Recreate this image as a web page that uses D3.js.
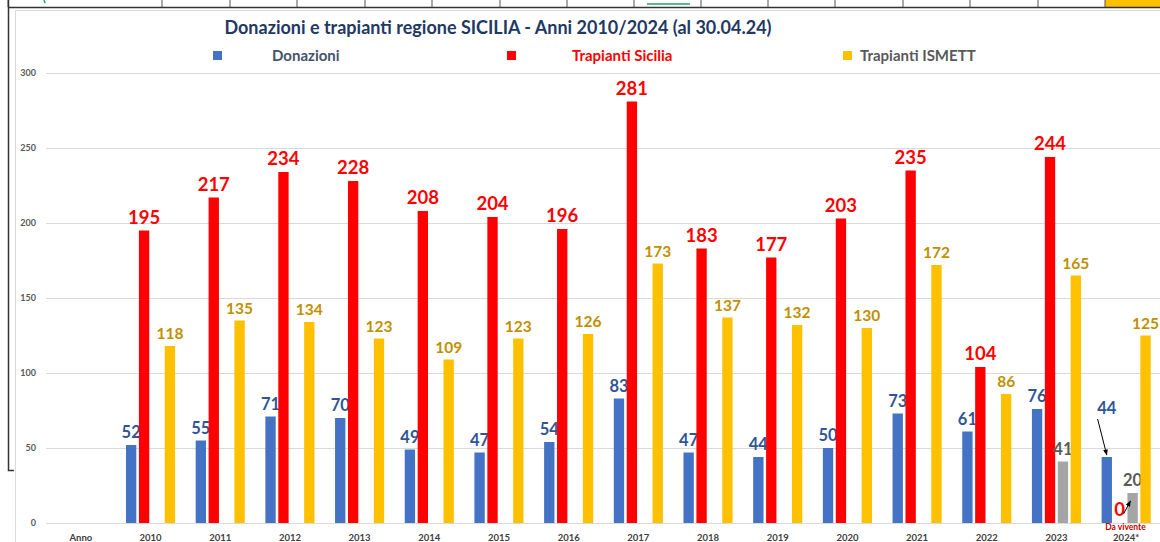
<!DOCTYPE html>
<html>
<head>
<meta charset="utf-8">
<script src="https://cdn.jsdelivr.net/npm/d3@7"></script>
<style>
  body { margin: 0; background: #fff; }
  svg { display: block; font-family: Lato, "Open Sans", sans-serif; }
</style>
</head>
<body>
<div id="chart"></div>
<script>
// Data
var categories = ["Anno", "2010", "2011", "2012", "2013", "2014", "2015", "2016", "2017", "2018", "2019", "2020", "2021", "2022", "2023", "2024*"];
var donazioni = [null, 52, 55, 71, 70, 49, 47, 54, 83, 47, 44, 50, 73, 61, 76, 44];
var trapiantiSicilia = [null, 195, 217, 234, 228, 208, 204, 196, 281, 183, 177, 203, 235, 104, 244, 0];
var daVivente = [null, null, null, null, null, null, null, null, null, null, null, null, null, null, 41, 20];
var trapiantiIsmett = [null, 118, 135, 134, 123, 109, 123, 126, 173, 137, 132, 130, 172, 86, 165, 125];
var yTicks = [0, 50, 100, 150, 200, 250, 300];

var series = [
  {key: "don", name: "Donazioni", values: donazioni, fill: "#4472C4", label: "#2F5597", size: 16.5, legendColor: "#44546A"},
  {key: "sic", name: "Trapianti Sicilia", values: trapiantiSicilia, fill: "#FF0000", label: "#FF0000", size: 18.5, legendColor: "#FF0000"},
  {key: "viv", name: "Da vivente", values: daVivente, fill: "#A5A5A5", label: "#595959", size: 16.5},
  {key: "ism", name: "Trapianti ISMETT", values: trapiantiIsmett, fill: "#FFC000", label: "#BF9000", size: 15.5, legendColor: "#595959"}
];

var W = 1160, H = 542;
var svg = d3.select("#chart").append("svg")
    .attr("width", W)
    .attr("height", H);

// spreadsheet strip above the chart
var cellX = [8, 162, 230, 297, 365, 432, 500, 567, 634, 701, 768, 835, 903, 970, 1038, 1105];
svg.append("rect").attr("x", 1105).attr("y", 0).attr("width", 55).attr("height", 7).attr("fill", "#FFC000");
svg.selectAll("line.cell").data(cellX).enter().append("line")
    .attr("class", "cell")
    .attr("x1", d => d).attr("x2", d => d)
    .attr("y1", 0).attr("y2", 7)
    .attr("stroke", "#555").attr("stroke-width", 1);
svg.append("line").attr("x1", 8).attr("x2", W).attr("y1", 7.5).attr("y2", 7.5).attr("stroke", "#333").attr("stroke-width", 1.5);
svg.append("line").attr("x1", 647).attr("x2", 690).attr("y1", 4).attr("y2", 4).attr("stroke", "#21A366").attr("stroke-width", 1.5);
svg.append("line").attr("x1", 44).attr("x2", 45).attr("y1", 0).attr("y2", 3).attr("stroke", "#21A366").attr("stroke-width", 1.5);
// left sheet border
svg.append("path").attr("d", "M8.5,0 V470.5 H14").attr("fill", "none").attr("stroke", "#333").attr("stroke-width", 1.5);
// chart area border
svg.append("path").attr("d", "M15.5," + H + " V10.5 H" + W).attr("fill", "none").attr("stroke", "#D9D9D9").attr("stroke-width", 1);

// scales
var x = d3.scaleBand().domain(categories).range([46, 1161]).padding(0);
var x1 = d3.scaleBand().domain(series.map(s => s.key)).range([10.3, 59.4]).paddingInner(0.2).paddingOuter(0);
var y = d3.scaleLinear().domain([0, 300]).range([523, 73]);

// gridlines
svg.append("g")
  .selectAll("line").data(yTicks).enter().append("line")
    .attr("x1", 46).attr("x2", W)
    .attr("y1", d => y(d) + 0.5).attr("y2", d => y(d) + 0.5)
    .attr("stroke", "#D9D9D9").attr("stroke-width", 1);

// y axis labels
svg.append("g")
  .selectAll("text").data(yTicks).enter().append("text")
    .attr("x", 36).attr("y", d => y(d) + 3)
    .attr("text-anchor", "end")
    .attr("font-size", 9).attr("font-weight", "bold")
    .attr("fill", "#595959")
    .text(d => d);

// x axis labels
svg.append("g")
  .selectAll("text").data(categories).enter().append("text")
    .attr("x", d => x(d) + x.bandwidth() / 2)
    .attr("y", 540.5)
    .attr("text-anchor", "middle")
    .attr("font-size", 9.5).attr("font-weight", "bold")
    .attr("fill", "#404040")
    .text(d => d);

// bars
series.forEach(function(s) {
  var pts = categories.map((c, i) => ({cat: c, v: s.values[i]})).filter(d => d.v != null);
  var g = svg.append("g");
  g.selectAll("rect").data(pts).enter().append("rect")
      .attr("x", d => x(d.cat) + x1(s.key))
      .attr("y", d => y(d.v))
      .attr("width", x1.bandwidth())
      .attr("height", d => y(0) - y(d.v))
      .attr("fill", s.fill);
  g.selectAll("text").data(pts).enter().append("text")
      .attr("x", d => x(d.cat) + x1(s.key) + x1.bandwidth() / 2)
      .attr("y", function(d) {
        // 2024 donations label is lifted and pointed at with an arrow
        if (s.key === "don" && d.cat === "2024*") return y(d.v) - 43;
        return y(d.v) - 7;
      })
      .attr("text-anchor", "middle")
      .attr("font-size", s.size).attr("font-weight", "bold")
      .attr("fill", s.label)
      .text(d => d.v);
});

// arrows for 2024
svg.append("defs").append("marker")
    .attr("id", "arr").attr("viewBox", "0 0 10 10")
    .attr("refX", 9).attr("refY", 5)
    .attr("markerWidth", 6).attr("markerHeight", 6)
    .attr("orient", "auto")
  .append("path").attr("d", "M0,1 L10,5 L0,9 z").attr("fill", "#000");

var c24 = x("2024*");
svg.append("line")
    .attr("x1", c24 + x1("don") - 4).attr("y1", y(44) - 38)
    .attr("x2", c24 + x1("don") + x1.bandwidth() / 2).attr("y2", y(44) - 2)
    .attr("stroke", "#000").attr("stroke-width", 1)
    .attr("marker-end", "url(#arr)");
svg.append("line")
    .attr("x1", c24 + x1("viv") - 4).attr("y1", y(0) - 9)
    .attr("x2", c24 + x1("viv") + 3).attr("y2", y(20) + 8)
    .attr("stroke", "#000").attr("stroke-width", 1)
    .attr("marker-end", "url(#arr)");
svg.append("text")
    .attr("x", c24 + x1("viv") - 2).attr("y", 530)
    .attr("text-anchor", "middle")
    .attr("font-size", 8.5).attr("font-weight", "bold")
    .attr("fill", "#C00000")
    .text("Da vivente");

// title
svg.append("text")
    .attr("x", 498).attr("y", 34)
    .attr("text-anchor", "middle")
    .attr("font-size", 18).attr("font-weight", "bold")
    .attr("fill", "#1F3864")
    .text("Donazioni e trapianti regione SICILIA - Anni 2010/2024 (al 30.04.24)");

// legend
var legend = [
  {s: series[0], sq: 213, tx: 272},
  {s: series[1], sq: 507, tx: 572},
  {s: series[3], sq: 843, tx: 860}
];
var lg = svg.append("g").selectAll("g").data(legend).enter().append("g");
lg.append("rect")
    .attr("x", d => d.sq).attr("y", 51)
    .attr("width", 9).attr("height", 9)
    .attr("fill", d => d.s.fill);
lg.append("text")
    .attr("x", d => d.tx).attr("y", 61)
    .attr("font-size", 15).attr("font-weight", "bold")
    .attr("fill", d => d.s.legendColor)
    .text(d => d.s.name);
</script>
</body>
</html>
